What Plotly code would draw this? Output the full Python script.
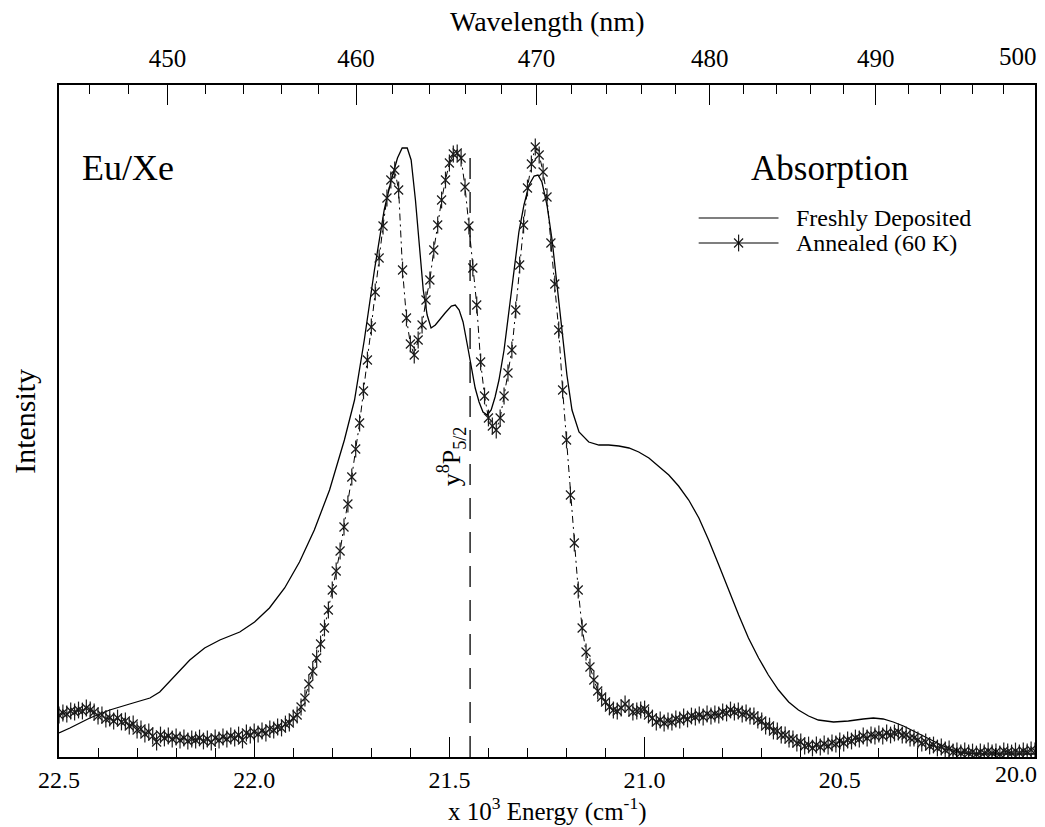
import plotly.graph_objects as go

# ---------------- data ----------------
# Freshly deposited (solid line): energy in 10^3 cm^-1, intensity in arbitrary units
fresh_energy = [22.500, 22.472, 22.421, 22.370, 22.319, 22.267, 22.242, 22.209, 22.165, 22.127,
                22.088, 22.037, 21.999, 21.961, 21.922, 21.884, 21.846, 21.807, 21.769, 21.743,
                21.718, 21.692, 21.667, 21.649, 21.633, 21.621, 21.608, 21.598, 21.587, 21.577,
                21.567, 21.557, 21.547, 21.536, 21.526, 21.511, 21.495, 21.485, 21.475, 21.465,
                21.454, 21.444, 21.434, 21.424, 21.414, 21.403, 21.393, 21.383, 21.373, 21.360,
                21.347, 21.334, 21.322, 21.309, 21.296, 21.283, 21.273, 21.263, 21.250, 21.237,
                21.224, 21.212, 21.199, 21.186, 21.168, 21.143, 21.117, 21.092, 21.066, 21.040,
                21.015, 20.989, 20.964, 20.938, 20.913, 20.887, 20.861, 20.836, 20.810, 20.785,
                20.759, 20.734, 20.708, 20.683, 20.657, 20.631, 20.606, 20.580, 20.555, 20.516,
                20.478, 20.440, 20.414, 20.389, 20.363, 20.337, 20.312, 20.286, 20.261, 20.235,
                20.210, 20.184, 20.146, 20.095, 20.043, 20.000]
fresh_intensity = [24, 29, 39, 47, 53, 59, 65, 79, 97, 109,
                   117, 125, 135, 149, 169, 195, 227, 267, 317, 357,
                   417, 487, 547, 577, 599, 609, 609, 597, 557, 512,
                   467, 442, 429, 432, 437, 444, 451, 452, 447, 435,
                   412, 389, 369, 355, 345, 342, 347, 360, 377, 407,
                   447, 487, 525, 552, 572, 581, 582, 575, 552, 517,
                   472, 427, 382, 347, 325, 315, 312, 312, 311, 309,
                   305, 299, 291, 282, 271, 257, 239, 217, 192, 167,
                   142, 119, 99, 82, 67, 55, 47, 41, 37, 35,
                   36, 38, 39, 38, 35, 31, 26, 21, 16, 11,
                   7, 4, 3, 3, 3, 3]

# Annealed (60 K): asterisks every 0.01 x 10^3 cm^-1
annealed_energy = [22.50, 22.49, 22.48, 22.47, 22.46, 22.45, 22.44, 22.43, 22.42, 22.41,
                   22.40, 22.39, 22.38, 22.37, 22.36, 22.35, 22.34, 22.33, 22.32, 22.31,
                   22.30, 22.29, 22.28, 22.27, 22.26, 22.25, 22.24, 22.23, 22.22, 22.21,
                   22.20, 22.19, 22.18, 22.17, 22.16, 22.15, 22.14, 22.13, 22.12, 22.11,
                   22.10, 22.09, 22.08, 22.07, 22.06, 22.05, 22.04, 22.03, 22.02, 22.01,
                   22.00, 21.99, 21.98, 21.97, 21.96, 21.95, 21.94, 21.93, 21.92, 21.91,
                   21.90, 21.89, 21.88, 21.87, 21.86, 21.85, 21.84, 21.83, 21.82, 21.81,
                   21.80, 21.79, 21.78, 21.77, 21.76, 21.75, 21.74, 21.73, 21.72, 21.71,
                   21.70, 21.69, 21.68, 21.67, 21.66, 21.65, 21.64, 21.63, 21.62, 21.61,
                   21.60, 21.59, 21.58, 21.57, 21.56, 21.55, 21.54, 21.53, 21.52, 21.51,
                   21.50, 21.49, 21.48, 21.47, 21.46, 21.45, 21.44, 21.43, 21.42, 21.41,
                   21.40, 21.39, 21.38, 21.37, 21.36, 21.35, 21.34, 21.33, 21.32, 21.31,
                   21.30, 21.29, 21.28, 21.27, 21.26, 21.25, 21.24, 21.23, 21.22, 21.21,
                   21.20, 21.19, 21.18, 21.17, 21.16, 21.15, 21.14, 21.13, 21.12, 21.11,
                   21.10, 21.09, 21.08, 21.07, 21.06, 21.05, 21.04, 21.03, 21.02, 21.01,
                   21.00, 20.99, 20.98, 20.97, 20.96, 20.95, 20.94, 20.93, 20.92, 20.91,
                   20.90, 20.89, 20.88, 20.87, 20.86, 20.85, 20.84, 20.83, 20.82, 20.81,
                   20.80, 20.79, 20.78, 20.77, 20.76, 20.75, 20.74, 20.73, 20.72, 20.71,
                   20.70, 20.69, 20.68, 20.67, 20.66, 20.65, 20.64, 20.63, 20.62, 20.61,
                   20.60, 20.59, 20.58, 20.57, 20.56, 20.55, 20.54, 20.53, 20.52, 20.51,
                   20.50, 20.49, 20.48, 20.47, 20.46, 20.45, 20.44, 20.43, 20.42, 20.41,
                   20.40, 20.39, 20.38, 20.37, 20.36, 20.35, 20.34, 20.33, 20.32, 20.31,
                   20.30, 20.29, 20.28, 20.27, 20.26, 20.25, 20.24, 20.23, 20.22, 20.21,
                   20.20, 20.19, 20.18, 20.17, 20.16, 20.15, 20.14, 20.13, 20.12, 20.11,
                   20.10, 20.09, 20.08, 20.07, 20.06, 20.05, 20.04, 20.03, 20.02, 20.01,
                   20.00]
annealed_intensity = [42, 44, 43, 46, 45, 47, 46, 49, 47, 45,
                      41, 42, 38, 39, 36, 39, 35, 36, 31, 33,
                      27, 28, 23, 25, 21, 15, 22, 19, 21, 18,
                      20, 17, 19, 16, 18, 17, 19, 16, 18, 15,
                      19, 17, 20, 18, 21, 19, 22, 17, 24, 22,
                      25, 23, 26, 24, 28, 27, 30, 29, 33, 34,
                      39, 42, 50, 59, 73, 86, 99, 113, 129, 147,
                      167, 186, 206, 230, 253, 280, 308, 334, 366, 397,
                      430, 465, 499, 531, 559, 577, 587, 567, 487, 439,
                      413, 402, 417, 432, 457, 477, 507, 532, 557, 577,
                      594, 603, 604, 599, 570, 531, 489, 452, 395, 361,
                      339, 331, 327, 339, 361, 384, 407, 447, 492, 532,
                      569, 593, 610, 602, 585, 560, 514, 473, 427, 367,
                      317, 262, 214, 167, 129, 105, 90, 77, 66, 60,
                      55, 50, 47, 46, 49, 53, 49, 45, 46, 47,
                      48, 42, 39, 35, 37, 34, 36, 35, 38, 37,
                      40, 38, 41, 40, 42, 40, 43, 41, 43, 42,
                      45, 44, 47, 45, 46, 43, 44, 41, 41, 37,
                      36, 31, 31, 26, 26, 22, 22, 18, 18, 14,
                      15, 11, 12, 9, 12, 10, 13, 11, 14, 13,
                      16, 14, 17, 16, 19, 18, 21, 19, 22, 21,
                      23, 21, 24, 22, 24, 25, 22, 22, 19, 19,
                      17, 14, 15, 11, 12, 9, 10, 7, 8, 5,
                      6, 4, 6, 4, 5, 3, 5, 4, 6, 4,
                      5, 3, 6, 5, 4, 6, 4, 6, 5, 7,
                      6]

# transition marker y8P5/2
transition_energy = 21.447
transition_top = 607
transition_label = "y<sup>8</sup>P<sub>5/2</sub>"

# axis ticks
energy_ticks = [22.5, 22.0, 21.5, 21.0, 20.5, 20.0]
energy_ticktext = ["22.5", "22.0", "21.5", "21.0", "20.5", ""]   # "20.0" drawn as edge label
energy_minor = [22.4, 22.3, 22.2, 22.1, 21.9, 21.8, 21.7, 21.6, 21.4, 21.3, 21.2, 21.1,
                20.9, 20.8, 20.7, 20.6, 20.4, 20.3, 20.2, 20.1]
wavelength_ticks = [450, 460, 470, 480, 490, 500]
wavelength_ticktext = ["450", "460", "470", "480", "490", ""]    # "500" drawn as edge label
wavelength_minor = [446, 448, 452, 454, 456, 458, 462, 464, 466, 468, 472, 474, 476, 478,
                    482, 484, 486, 488, 492, 494, 496, 498]

FONT = "Liberation Serif, Times New Roman, serif"
INK = "black"
MK = "#1a1a1a"

fig = go.Figure()
fig.add_trace(go.Scatter(x=fresh_energy, y=fresh_intensity, mode="lines",
                         line=dict(color=INK, width=1.3), showlegend=False, hoverinfo="skip"))
fig.add_trace(go.Scatter(x=annealed_energy, y=annealed_intensity, mode="lines+markers",
                         line=dict(color=INK, width=1, dash="7px,4px,2px,4px"),
                         marker=dict(symbol="x-thin-open", size=9, color=MK,
                                     line=dict(color=MK, width=1.2)),
                         showlegend=False, hoverinfo="skip"))
fig.add_trace(go.Scatter(x=annealed_energy, y=annealed_intensity, mode="markers",
                         marker=dict(symbol="line-ns-open", size=12, color=MK,
                                     line=dict(color=MK, width=1.2)),
                         showlegend=False, hoverinfo="skip"))

# legend key markers on an overlay (paper-like) axis pair
leg_x0, leg_x1 = 0.6554, 0.7372
leg_y1, leg_y2 = 0.8021, 0.7649
leg_mid = (leg_x0 + leg_x1) / 2
fig.add_trace(go.Scatter(x=[leg_mid], y=[leg_y2], xaxis="x3", yaxis="y3", mode="markers",
                         marker=dict(symbol="x-thin-open", size=9, color=MK,
                                     line=dict(color=MK, width=1.2)),
                         showlegend=False, hoverinfo="skip"))
fig.add_trace(go.Scatter(x=[leg_mid], y=[leg_y2], xaxis="x3", yaxis="y3", mode="markers",
                         marker=dict(symbol="line-ns-open", size=12, color=MK,
                                     line=dict(color=MK, width=1.2)),
                         showlegend=False, hoverinfo="skip"))

shapes = [
    dict(type="line", xref="x", yref="y", x0=transition_energy, x1=transition_energy,
         y0=0, y1=transition_top, line=dict(color=INK, width=1.3, dash="21px,13px")),
    dict(type="line", xref="paper", yref="paper", x0=leg_x0, x1=leg_x1, y0=leg_y1, y1=leg_y1,
         line=dict(color=INK, width=1.2)),
    dict(type="line", xref="paper", yref="paper", x0=leg_x0, x1=leg_x1, y0=leg_y2, y1=leg_y2,
         line=dict(color=INK, width=1.2)),
]


def txt(text, x, y, size, xanchor="center", yanchor="middle", xref="paper", yref="paper",
        angle=0):
    return dict(text=text, x=x, y=y, xref=xref, yref=yref, xanchor=xanchor, yanchor=yanchor,
                textangle=angle, showarrow=False, font=dict(family=FONT, size=size, color=INK))


annotations = [
    txt("Eu/Xe", 0.0706, 0.876, 36),
    txt("Absorption", 0.790, 0.876, 35),
    txt("Freshly Deposited", 0.7526, leg_y1, 24, xanchor="left"),
    txt("Annealed (60 K)", 0.7526, leg_y2, 24, xanchor="left"),
    txt(transition_label, 21.495, 301, 26, xref="x", yref="y", angle=-90),
    txt("Wavelength (nm)", 0.5, 1.0938, 28),
    txt("x 10<sup>3</sup> Energy (cm<sup>-1</sup>)", 0.5, -0.0775, 25),
    txt("Intensity", -0.036, 0.5, 30, angle=-90),
    txt("20.0", 1.004, -0.025, 24, xanchor="right"),
    txt("500", 1.004, 1.0417, 25, xanchor="right"),
]

axis_common = dict(showgrid=False, zeroline=False, showline=True, linecolor=INK, linewidth=1.5,
                   ticks="inside", ticklen=20, tickwidth=1, tickcolor=INK,
                   tickfont=dict(family=FONT, size=25, color=INK))

fig.update_layout(
    width=1045, height=827,
    margin=dict(l=59, r=8, t=85, b=70),
    paper_bgcolor="white", plot_bgcolor="white",
    showlegend=False,
    xaxis=dict(range=[22.5, 20.0], tickmode="array", tickvals=energy_ticks,
               ticktext=energy_ticktext, ticklabelstandoff=0,
               minor=dict(tickmode="array", tickvals=energy_minor, ticks="inside", ticklen=9,
                          tickwidth=1, tickcolor=INK),
               **{**axis_common, "tickfont": dict(family=FONT, size=24, color=INK)}),
    xaxis2=dict(overlaying="x", side="top", anchor="y", range=[22.5, 20.0], tickmode="array",
                tickvals=[1e4 / w for w in wavelength_ticks],
                ticktext=wavelength_ticktext, ticklabelstandoff=6,
                minor=dict(tickmode="array", tickvals=[1e4 / w for w in wavelength_minor],
                           ticks="inside", ticklen=9, tickwidth=1, tickcolor=INK),
                **axis_common),
    yaxis=dict(range=[0, 672], showticklabels=False, ticks="", showgrid=False, zeroline=False,
               showline=True, mirror=True, linecolor=INK, linewidth=1.5),
    xaxis3=dict(overlaying="x", anchor="y3", range=[0, 1], visible=False),
    yaxis3=dict(overlaying="y", anchor="x3", range=[0, 1], visible=False),
    shapes=shapes,
    annotations=annotations,
)

# ensure the top axis is rendered
fig.add_trace(go.Scatter(x=[None], y=[None], xaxis="x2", yaxis="y", showlegend=False,
                         hoverinfo="skip"))

fig.write_html("out.html")
